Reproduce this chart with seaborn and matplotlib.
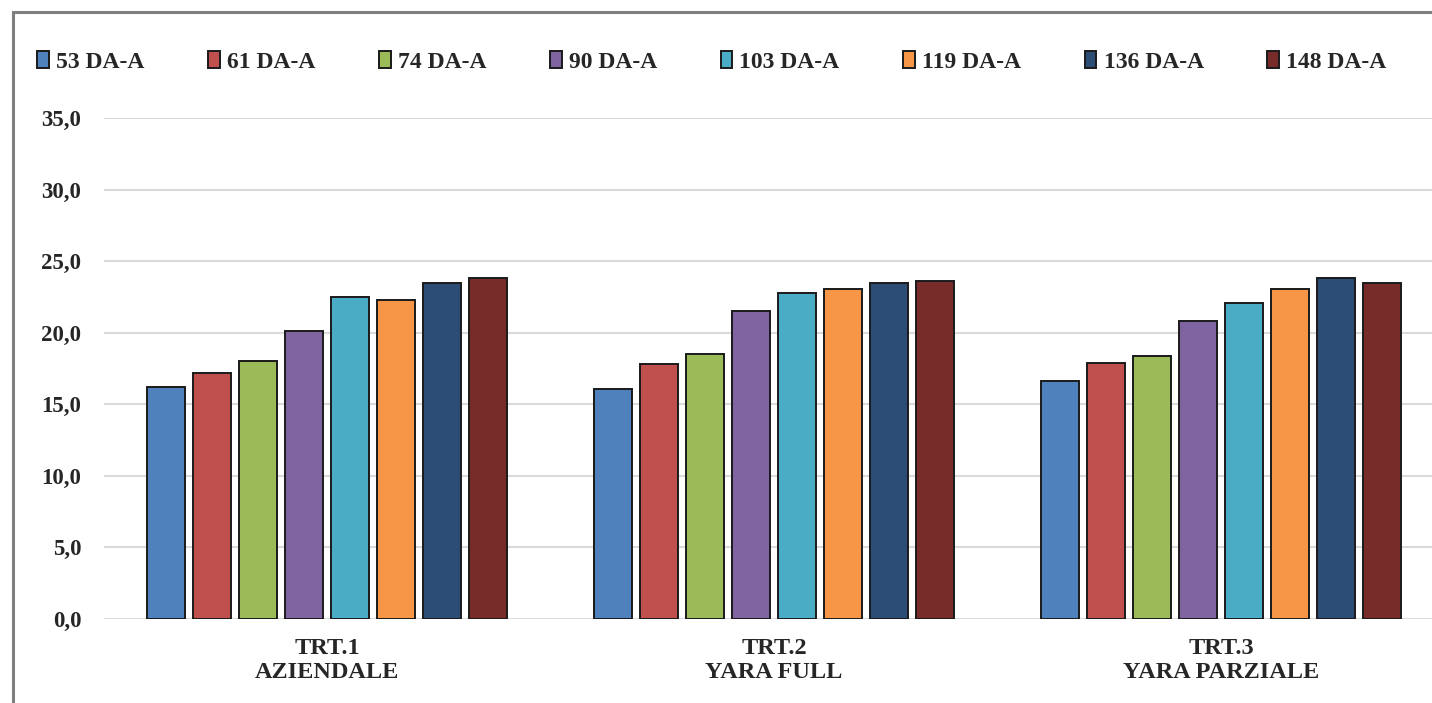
import pandas as pd
import numpy as np
import matplotlib
matplotlib.use("Agg")
import matplotlib.pyplot as plt
import seaborn as sns
from matplotlib.patches import Rectangle

# valori
trattamenti = ["TRT.1\nAZIENDALE", "TRT.2\nYARA FULL", "TRT.3\nYARA PARZIALE"]
date = ["53 DA-A", "61 DA-A", "74 DA-A", "90 DA-A", "103 DA-A", "119 DA-A", "136 DA-A", "148 DA-A"]
trt1 = [16.2, 17.2, 18.0, 20.1, 22.5, 22.3, 23.5, 23.8]
trt2 = [16.1, 17.8, 18.5, 21.5, 22.8, 23.05, 23.5, 23.65]
trt3 = [16.65, 17.9, 18.35, 20.8, 22.1, 23.05, 23.8, 23.5]
colori = ["#4F81BD", "#C0504D", "#9BBB59", "#8064A2", "#4BACC6", "#F79646", "#2C4D75", "#772C2A"]

rows = []
for t, vals in zip(trattamenti, [trt1, trt2, trt3]):
    for d, v in zip(date, vals):
        rows.append({"trt": t, "data": d, "valore": v})
df = pd.DataFrame(rows)

sns.set_style("white")
plt.rcParams["font.family"] = ["Liberation Serif", "DejaVu Serif"]
plt.rcParams["font.weight"] = "bold"

fig = plt.figure(figsize=(14.32, 7.03), dpi=100)
ax = fig.add_axes([0.0723, 0.1195, 0.9365, 0.7125])

sns.barplot(data=df, x="trt", y="valore", hue="data", hue_order=date, palette=colori,
            saturation=1, width=0.823, gap=0.17, edgecolor="#1a1a1a", linewidth=1.4,
            ax=ax, zorder=3)

ax.set_ylim(0, 35)
ax.set_yticks(np.arange(0, 35.1, 5))
ax.set_yticklabels([f"{v:.1f}".replace(".", ",") for v in np.arange(0, 35.1, 5)],
                   fontsize=16.5, fontweight="bold")
ax.tick_params(axis="x", labelsize=17.5, length=0, pad=14)
ax.tick_params(axis="y", length=0, pad=16)
for lab in ax.get_xticklabels():
    lab.set_fontweight("bold")
    lab.set_linespacing(1.15)
ax.grid(axis="y", color="#DADADA", linewidth=1.5, zorder=0)
ax.set_axisbelow(True)
ax.set_xlabel("")
ax.set_ylabel("")
sns.despine(ax=ax, left=True, bottom=True, top=True, right=True)

# legenda in alto, su una riga
handles, labels = ax.get_legend_handles_labels()
ax.get_legend().remove()
fig.legend(handles, labels, loc="lower left", bbox_to_anchor=(0.011, 0.866, 0.972, 0.06),
           mode="expand", ncol=8, frameon=False, handlelength=0.5, handleheight=0.7,
           handletextpad=0.3, prop={"family": "Liberation Serif", "weight": "bold", "size": 17})

# cornice grigia esterna
fig.patches.append(Rectangle((0.009, -0.05), 1.1, 1.033, transform=fig.transFigure,
                             fill=False, edgecolor="#7F7F7F", linewidth=2.2))

fig.savefig("out.png", dpi=100)
